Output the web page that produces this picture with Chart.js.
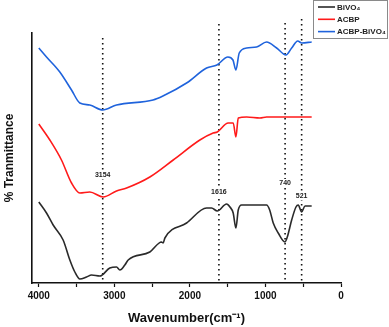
<!DOCTYPE html>
<html>
<head>
<meta charset="utf-8">
<script src="https://cdn.jsdelivr.net/npm/chart.js@4/dist/chart.umd.min.js"></script>
<style>
  body { margin: 0; background: #fff; }
  #wrap { width: 389px; height: 327px; position: relative; }
</style>
</head>
<body>
<div id="wrap"><canvas id="myChart"></canvas></div>
<script>
// series (wavenumber, offset transmittance in arbitrary units)
const seriesLabels = ['BiVO\u2084', 'ACBP', 'ACBP-BiVO\u2084'];
const seriesColors = ['#2a2a2a', '#ff1a1a', '#1f63dc'];

const bivo4Wave = [4000, 3898, 3810, 3678, 3589, 3523, 3457, 3368, 3302, 3192, 3060, 2971, 2927, 2861, 2817, 2530, 2375, 2354, 2331, 2044, 1779, 1713, 1638, 1514, 1470, 1427, 1391, 1360, 1315, 1161, 985, 944, 897, 831, 742, 711, 653, 596, 566, 521, 477, 388];
const bivo4T    = [81, 70, 58, 43, 23, 11, 4, 6, 8, 7, 15, 16, 13, 18, 23, 31, 41, 40, 45, 60, 75, 75, 72, 79, 76, 70, 55, 73, 78, 78, 78, 73, 60, 50, 41, 46, 63, 76, 78, 71, 77, 77];

const acbpWave = [4000, 3854, 3700, 3567, 3457, 3325, 3148, 2971, 2838, 2530, 2221, 1868, 1692, 1638, 1493, 1427, 1391, 1360, 1249, 1073, 985, 388];
const acbpT    = [159, 143, 123, 100, 90, 91, 86, 92, 95, 106, 123, 143, 150, 151, 160, 160, 146, 165, 166, 165, 166, 166];

const mixWave = [4000, 3898, 3722, 3567, 3457, 3325, 3154, 2971, 2488, 2357, 2044, 1779, 1642, 1497, 1430, 1391, 1347, 1249, 1117, 985, 852, 728, 653, 573, 520, 388];
const mixT    = [235, 226, 211, 193, 180, 178, 173, 178, 183, 187, 200, 215, 218, 226, 223, 213, 230, 235, 236, 241, 235, 228, 235, 242, 240, 241];

// marked peaks
const peakWaves  = [3154, 1616, 740, 521];
const peakLabels = ['3154', '1616', '740', '521'];
const peakTops   = [245, 259, 260, 264];
const peakLabelY = [108, 91, 100, 87];

// x ticks
const xTicks = [0, 500, 1000, 1500, 2000, 2500, 3000, 3500, 4000];

const toPoints = (xs, ys) => xs.map((x, i) => ({ x, y: ys[i] }));

const curves = [
  toPoints(bivo4Wave, bivo4T),
  toPoints(acbpWave, acbpT),
  toPoints(mixWave, mixT)
].map((pts, i) => ({
  label: seriesLabels[i],
  data: pts,
  borderColor: seriesColors[i],
  backgroundColor: seriesColors[i],
  borderWidth: 1.6,
  pointRadius: 0,
  cubicInterpolationMode: 'monotone'
}));

const peakLines = peakWaves.map((w, i) => ({
  label: 'peak' + i,
  data: [{ x: w, y: peakTops[i] }, { x: w, y: 0 }],
  borderColor: '#111',
  borderWidth: 1.6,
  borderDash: [1.5, 3.5],
  pointRadius: 0,
  clip: false
}));

// peak numbers over the dotted lines
const peakText = {
  id: 'peakText',
  afterDatasetsDraw(chart) {
    const { ctx, scales: { x, y } } = chart;
    ctx.save();
    ctx.font = 'bold 7px Arial';
    ctx.textAlign = 'center';
    ctx.textBaseline = 'middle';
    peakWaves.forEach((w, i) => {
      const px = x.getPixelForValue(w);
      const py = y.getPixelForValue(peakLabelY[i]);
      const tw = ctx.measureText(peakLabels[i]).width;
      ctx.fillStyle = '#fff';
      ctx.fillRect(px - tw / 2 - 1, py - 4, tw + 2, 8);
      ctx.fillStyle = '#222';
      ctx.fillText(peakLabels[i], px, py);
    });
    ctx.restore();
  }
};

// boxed legend in the top right corner
const boxLegend = {
  id: 'boxLegend',
  afterDraw(chart) {
    const { ctx } = chart;
    const left = 313, top = 0.5, w = 75, h = 38;
    ctx.save();
    ctx.fillStyle = '#fff';
    ctx.fillRect(left, top, w, h);
    ctx.strokeStyle = '#8a8a8a';
    ctx.lineWidth = 1;
    ctx.strokeRect(left + 0.5, top, w - 1, h);
    ctx.font = 'bold 8px Arial';
    ctx.textBaseline = 'middle';
    seriesLabels.forEach((lab, i) => {
      const yy = 7 + i * 12.3;
      ctx.strokeStyle = seriesColors[i];
      ctx.lineWidth = 1.6;
      ctx.beginPath();
      ctx.moveTo(318, yy);
      ctx.lineTo(335, yy);
      ctx.stroke();
      ctx.fillStyle = '#222';
      ctx.fillText(lab, 337, yy + 0.5);
    });
    ctx.restore();
  }
};

const config = {
  type: 'line',
  data: { datasets: [...curves, ...peakLines] },
  options: {
    responsive: true,
    maintainAspectRatio: false,
    animation: false,
    layout: { padding: { top: 33, right: 48, left: 0, bottom: 0 } },
    plugins: {
      legend: { display: false },
      tooltip: { enabled: false }
    },
    scales: {
      x: {
        type: 'linear',
        reverse: true,
        min: 0,
        max: 4090,
        afterBuildTicks(scale) {
          scale.ticks = xTicks.map(v => ({ value: v }));
        },
        afterFit(scale) { scale.height = 44; },
        grid: { display: true, drawOnChartArea: false, tickLength: 4, color: '#111', tickWidth: 1.2 },
        border: { display: true, color: '#111', width: 1.6 },
        ticks: {
          autoSkip: false,
          maxRotation: 0,
          padding: 3,
          color: '#111',
          font: { family: 'Arial', size: 10, weight: 'bold' },
          callback: v => (v % 1000 === 0 ? String(v) : '')
        },
        title: {
          display: true,
          text: 'Wavenumber(cm\u207B\u00B9)',
          color: '#111',
          font: { family: 'Arial', size: 13, weight: 'bold' },
          padding: { top: 0, bottom: 1 }
        }
      },
      y: {
        min: 0,
        max: 250,
        afterFit(scale) { scale.width = 32; },
        grid: { display: false },
        border: { display: true, color: '#111', width: 1.6 },
        ticks: { display: false },
        title: {
          display: true,
          text: '% Tranmittance',
          color: '#111',
          font: { family: 'Arial', size: 12, weight: 'bold' },
          padding: { top: 2, bottom: 0 }
        }
      }
    }
  },
  plugins: [peakText, boxLegend]
};

const myChart = new Chart(document.getElementById('myChart'), config);
</script>
</body>
</html>
